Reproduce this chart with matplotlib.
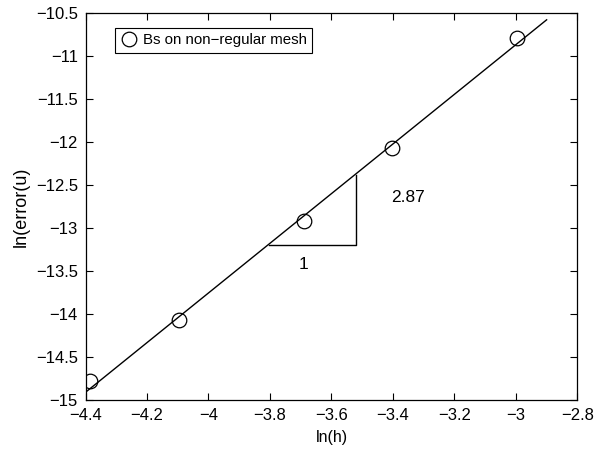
import matplotlib.pyplot as plt

plt.rcParams['font.family'] = ['Liberation Sans', 'DejaVu Sans']
plt.rcParams['font.size'] = 12

# data points
ln_h = [-4.385, -4.096, -3.689, -3.403, -2.997]
ln_err = [-14.78, -14.07, -12.92, -12.07, -10.79]

# least-squares line (endpoints)
fit_x = [-4.40, -2.90]
fit_y = [-14.91, -10.58]

# slope triangle
tri_x = [-3.803, -3.52, -3.52]
tri_y = [-13.20, -13.20, -12.38]

xticks = [-4.4, -4.2, -4, -3.8, -3.6, -3.4, -3.2, -3, -2.8]
yticks = [-15, -14.5, -14, -13.5, -13, -12.5, -12, -11.5, -11, -10.5]

fig = plt.figure(figsize=(5.94, 4.57), dpi=100)
ax = fig.add_axes([0.144, 0.1247, 0.828, 0.847])

ax.plot(ln_h, ln_err, 'o', mfc='none', mec='black', ms=10.5, mew=0.9,
        label='Bs on non\u2212regular mesh')
ax.plot(fit_x, fit_y, '-', color='black', lw=1)
ax.plot(tri_x, tri_y, '-', color='black', lw=1)
ax.text(-3.69, -13.43, '1', ha='center', va='center', fontsize=12.5)
ax.text(-3.406, -12.64, '2.87', ha='left', va='center', fontsize=12.5)

ax.set_xlim(-4.4, -2.8)
ax.set_ylim(-15, -10.5)
ax.set_xticks(xticks)
ax.set_xticklabels([('%g' % v).replace('-', '\u2212') for v in xticks])
ax.set_yticks(yticks)
ax.set_yticklabels([('%g' % v).replace('-', '\u2212') for v in yticks])
ax.tick_params(direction='in', top=True, right=True, length=5, width=0.8,
               labelsize=12, pad=5.5)
for s in ax.spines.values():
    s.set_linewidth(0.9)

ax.set_xlabel('ln(h)', fontsize=11.5, labelpad=5)
ax.set_ylabel('ln(error(u)', fontsize=13, labelpad=4)

leg = ax.legend(loc='upper left', bbox_to_anchor=(0.045, 0.98), fancybox=False,
                edgecolor='black', framealpha=1, handletextpad=0.3,
                borderpad=0.35, handlelength=1.2, fontsize=10.8)
leg.get_frame().set_linewidth(0.8)

plt.savefig('out.png', dpi=100)
